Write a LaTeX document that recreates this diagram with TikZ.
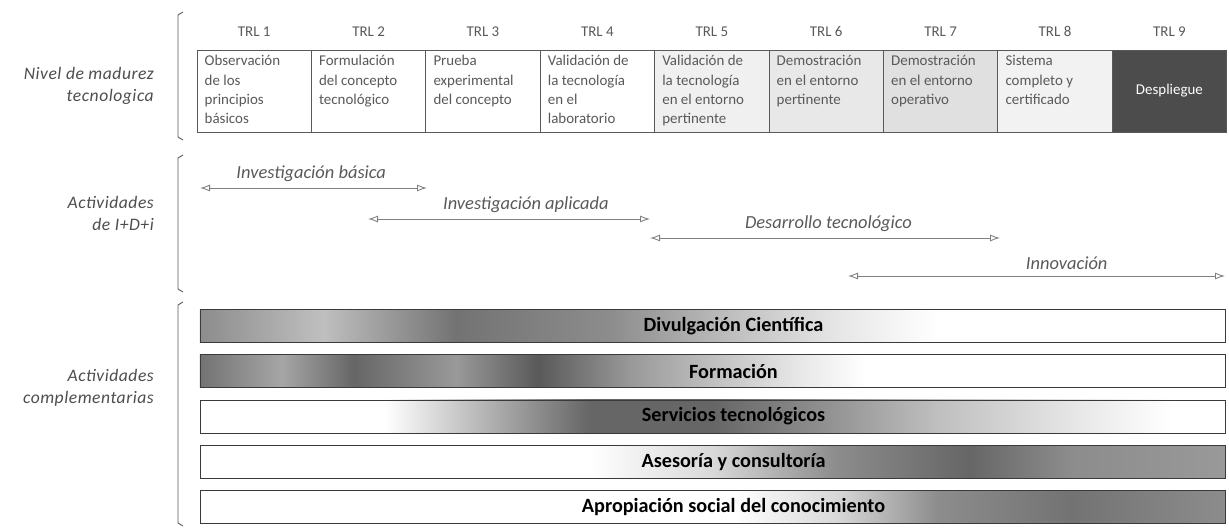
\documentclass[tikz,border=0pt]{standalone}
\usepackage{fontspec}
\setmainfont{Carlito}
\newfontfamily\sidefont[LetterSpace=3]{Carlito}
\usetikzlibrary{arrows.meta,positioning}
\definecolor{TRLGray}{HTML}{595959}
\definecolor{SideGray}{HTML}{4D4D4D}
\definecolor{BarEdge}{HTML}{3A3A3A}
\newcommand{\trltext}[1]{\parbox[t][14.2mm][t]{19.8mm}{\raggedright\fontsize{8.5}{11}\selectfont #1}}
% bar shadings: the path is mapped onto 25bp..75bp
\pgfdeclarehorizontalshading{barDiv}{100bp}{color(0bp)=(black!45); color(25bp)=(black!45);
  color(31bp)=(black!25); color(37.5bp)=(black!55); color(45bp)=(black!45); color(51bp)=(black!25);
  color(56bp)=(black!10); color(61bp)=(white); color(100bp)=(white)}
\pgfdeclarehorizontalshading{barFor}{100bp}{color(0bp)=(black!55); color(25bp)=(black!55);
  color(29bp)=(black!35); color(32.5bp)=(black!60); color(37.5bp)=(black!40); color(41.5bp)=(black!65);
  color(46bp)=(black!40); color(50bp)=(black!25); color(54bp)=(black!10); color(57.5bp)=(white); color(100bp)=(white)}
\pgfdeclarehorizontalshading{barSer}{100bp}{color(0bp)=(white); color(34bp)=(white);
  color(39bp)=(black!30); color(44bp)=(black!60); color(50bp)=(black!60); color(55bp)=(black!45);
  color(61bp)=(black!25); color(67.5bp)=(black!10); color(72.5bp)=(white); color(100bp)=(white)}
\pgfdeclarehorizontalshading{barAse}{100bp}{color(0bp)=(white); color(44bp)=(white);
  color(50bp)=(black!15); color(56bp)=(black!45); color(62.5bp)=(black!60); color(67.5bp)=(black!45);
  color(75bp)=(black!40); color(100bp)=(black!40)}
\pgfdeclarehorizontalshading{barApr}{100bp}{color(0bp)=(white); color(51bp)=(white);
  color(56bp)=(black!15); color(61bp)=(black!45); color(67.5bp)=(black!55); color(75bp)=(black!45);
  color(100bp)=(black!45)}

\begin{document}
\begin{tikzpicture}[
    x=0.2mm,y=-0.2mm,
    trlbox/.style={draw=TRLGray,thin,fill=white,outer sep=0pt,inner xsep=1.5mm,inner ysep=1.1mm,
                   minimum width=22.88mm,minimum height=16.4mm,text=TRLGray},
    trllabel/.style={inner sep=0pt,font=\fontsize{8.5}{9}\selectfont,text=TRLGray},
    sidelabel/.style={anchor=east,align=right,font=\sidefont\fontsize{10}{12.5}\selectfont\itshape,text=SideGray},
    sidebracket/.style={draw=TRLGray,line width=0.5pt},
    spanarrow/.style={{Latex[open,length=2mm,width=1.4mm]}-{Latex[open,length=2mm,width=1.4mm]},
                      draw=gray,line width=0.5pt},
    spanlabel/.style={font=\fontsize{10.5}{12}\selectfont\itshape,text=TRLGray},
    actbar/.style={draw=BarEdge,thin,shade,minimum width=205mm,minimum height=6.6mm,inner sep=0pt,
                   font=\fontsize{11.5}{13}\selectfont\bfseries,execute at begin node={\hspace*{8.4mm}}}
  ]
    \useasboundingbox (0,0) rectangle (1229,528);

    % row labels and brackets
    \node[sidelabel] (nivel) at (160,86) {Nivel de madurez\\tecnologica};
    \node[sidelabel] (idi) at (160,213) {Actividades\\de I+D+i};
    \node[sidelabel] (compl) at (160,388) {Actividades\\complementarias};
    \draw[sidebracket] (183,12) -- (178,15) -- (178,137) -- (183,140);
    \draw[sidebracket] (183,155) -- (178,158) -- (178,289) -- (183,292);
    \draw[sidebracket] (183,302) -- (178,305) -- (178,523) -- (183,526);

    % TRL boxes
    \node[trlbox,anchor=north west] (b1) at (197,50) {\trltext{Observación\\de los\\principios\\básicos}};
    \node[trlbox,right=0pt of b1] (b2) {\trltext{Formulación\\del concepto\\tecnológico}};
    \node[trlbox,right=0pt of b2] (b3) {\trltext{Prueba\\experimental\\del concepto}};
    \node[trlbox,right=0pt of b3] (b4) {\trltext{Validación de\\la tecnología\\en el\\laboratorio}};
    \node[trlbox,right=0pt of b4,fill=black!6] (b5) {\trltext{Validación de\\la tecnología\\en el entorno\\pertinente}};
    \node[trlbox,right=0pt of b5,fill=black!9] (b6) {\trltext{Demostración\\en el entorno\\pertinente}};
    \node[trlbox,right=0pt of b6,fill=black!12] (b7) {\trltext{Demostración\\en el entorno\\operativo}};
    \node[trlbox,right=0pt of b7,fill=black!5] (b8) {\trltext{Sistema\\completo y\\certificado}};
    \node[trlbox,right=0pt of b8,fill=black!70,text=white,font=\fontsize{8.5}{11}\selectfont] (b9) {Despliegue};

    \node[trllabel,above=2.7mm of b1] (t1) {TRL 1};
    \node[trllabel,above=2.7mm of b2] (t2) {TRL 2};
    \node[trllabel,above=2.7mm of b3] (t3) {TRL 3};
    \node[trllabel,above=2.7mm of b4] (t4) {TRL 4};
    \node[trllabel,above=2.7mm of b5] (t5) {TRL 5};
    \node[trllabel,above=2.7mm of b6] (t6) {TRL 6};
    \node[trllabel,above=2.7mm of b7] (t7) {TRL 7};
    \node[trllabel,above=2.7mm of b8] (t8) {TRL 8};
    \node[trllabel,above=2.7mm of b9] (t9) {TRL 9};

    % I+D+i spans
    \coordinate (bas-l) at (200,188);
    \coordinate (bas-r) at (427,188);
    \coordinate (apl-l) at (368,219);
    \coordinate (apl-r) at (650,219);
    \coordinate (des-l) at (650,238);
    \coordinate (des-r) at (1000,238);
    \coordinate (inn-l) at (848,276);
    \coordinate (inn-r) at (1225,276);
    \draw[spanarrow] (bas-l) -- node[spanlabel,above,pos=0.49] (basica) {Investigación básica} (bas-r);
    \draw[spanarrow] (apl-l) -- node[spanlabel,above,pos=0.56] (aplicada) {Investigación aplicada} (apl-r);
    \draw[spanarrow] (des-l) -- node[spanlabel,above,pos=0.51] (desarrollo) {Desarrollo tecnológico} (des-r);
    \draw[spanarrow] (inn-l) -- node[spanlabel,above,pos=0.58] (innovacion) {Innovación} (inn-r);

    % complementary activities
    \node[actbar,shading=barDiv] (div) at (712.5,326) {Divulgación Científica};
    \node[actbar,shading=barFor,below=2.3mm of div] (form) {Formación};
    \node[actbar,shading=barSer,below=2.3mm of form] (serv) {Servicios tecnológicos};
    \node[actbar,shading=barAse,below=2.3mm of serv] (ases) {Asesoría y consultoría};
    \node[actbar,shading=barApr,below=2.3mm of ases] (apro) {Apropiación social del conocimiento};
\end{tikzpicture}
\end{document}
